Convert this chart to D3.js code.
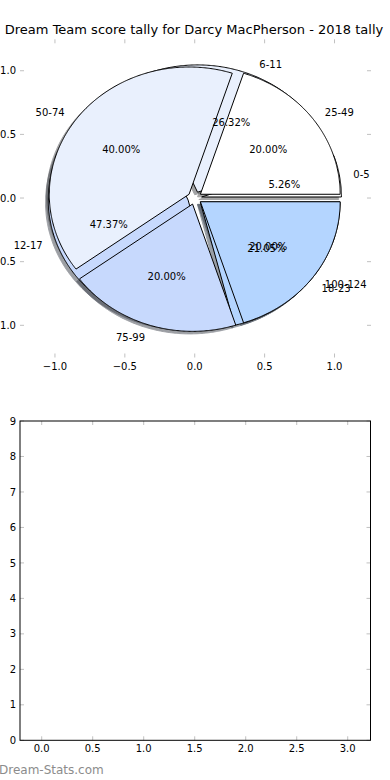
<!DOCTYPE html>
<html>
<head>
<meta charset="utf-8">
<script src="https://cdn.jsdelivr.net/npm/d3@7"></script>
<style>
  html, body { margin: 0; padding: 0; background: #ffffff; }
  svg { display: block; }
  text { font-family: "DejaVu Sans", sans-serif; }
</style>
</head>
<body>
<script>
// ---- data ----
const chartTitle = "Dream Team score tally for Darcy MacPherson - 2018 tally";
const pie1Labels = ["0-5", "6-11", "12-17", "18-23"];
const pie1Values = [1, 5, 9, 4];
const pie2Labels = ["25-49", "50-74", "75-99", "100-124"];
const pie2Values = [1, 2, 1, 1];
const sliceColors = ["#ffffff", "#e9f0fd", "#c7d9fd", "#b4d5ff"];
const pieXTicks = [-1.0, -0.5, 0.0, 0.5, 1.0];
const pieYTicks = [-1.0, -0.5, 0.0, 0.5, 1.0];
const barXTicks = [0.0, 0.5, 1.0, 1.5, 2.0, 2.5, 3.0];
const barYTicks = [0, 1, 2, 3, 4, 5, 6, 7, 8, 9];
const watermark = "Dream-Stats.com";

const W = 390, H = 780;
const explode = 0.05, labelDist = 1.1, pctDist = 0.6, shadowOff = -0.02;

const svg = d3.select("body").append("svg")
  .attr("width", W).attr("height", H);
svg.append("rect").attr("width", W).attr("height", H).attr("fill", "#ffffff");

// ---- top (pie) axes ----
const pA = { left: 20, right: 371, top: 39.3, bottom: 357.5 };
const px = d3.scaleLinear().domain([-1.25, 1.261]).range([pA.left, pA.right]);
const py = d3.scaleLinear().domain([-1.253, 1.247]).range([pA.bottom, pA.top]);

const tickColor = "#c0c0c0";

function ticksFor(g, xs, ys, A, xScale, yScale, xFmt, yFmt) {
  xs.forEach(v => {
    const X = xScale(v);
    g.append("line").attr("x1", X).attr("x2", X).attr("y1", A.bottom).attr("y2", A.bottom - 4)
      .attr("stroke", tickColor).attr("stroke-width", 1);
    g.append("line").attr("x1", X).attr("x2", X).attr("y1", A.top).attr("y2", A.top + 4)
      .attr("stroke", tickColor).attr("stroke-width", 1);
    g.append("text").attr("x", X).attr("y", A.bottom + 12)
      .attr("text-anchor", "middle").attr("font-size", 10).attr("fill", "#000")
      .text(xFmt(v));
  });
  ys.forEach(v => {
    const Y = yScale(v);
    g.append("line").attr("x1", A.left).attr("x2", A.left + 4).attr("y1", Y).attr("y2", Y)
      .attr("stroke", tickColor).attr("stroke-width", 1);
    g.append("line").attr("x1", A.right).attr("x2", A.right - 4).attr("y1", Y).attr("y2", Y)
      .attr("stroke", tickColor).attr("stroke-width", 1);
    g.append("text").attr("x", A.left - 4).attr("y", Y).attr("dy", "0.36em")
      .attr("text-anchor", "end").attr("font-size", 10).attr("fill", "#000")
      .text(yFmt(v));
  });
}

const fmt1 = d3.format(".1f");
ticksFor(svg.append("g"), pieXTicks, pieYTicks, pA, px, py, fmt1, fmt1);

// title
svg.append("text").attr("x", (pA.left + pA.right) / 2 - 1.5).attr("y", 34)
  .attr("text-anchor", "middle").attr("font-size", 13).attr("fill", "#000")
  .text(chartTitle);

// pie geometry
const pieGen = d3.pie().sort(null).startAngle(0).endAngle(2 * Math.PI);
function buildSlices(values, labels) {
  const total = d3.sum(values);
  return pieGen(values).map((d, i) => {
    const mid = (d.startAngle + d.endAngle) / 2;
    const cx = explode * Math.cos(mid), cy = explode * Math.sin(mid);
    return { t1: d.startAngle, t2: d.endAngle, mid, cx, cy,
             label: labels[i], pct: d3.format(".2f")(d.value / total * 100) + "%",
             color: sliceColors[i % sliceColors.length] };
  });
}
const slices1 = buildSlices(pie1Values, pie1Labels);
const slices2 = buildSlices(pie2Values, pie2Labels);

const lineGen = d3.line().x(p => px(p[0])).y(p => py(p[1]));
function wedgePts(s, off) {
  const pts = [[s.cx + off, s.cy + off]];
  const n = Math.max(8, Math.ceil((s.t2 - s.t1) / (Math.PI / 360)));
  for (let k = 0; k <= n; k++) {
    const t = s.t1 + (s.t2 - s.t1) * k / n;
    pts.push([s.cx + off + Math.cos(t), s.cy + off + Math.sin(t)]);
  }
  return pts;
}
function shade(c) {
  const r = d3.rgb(c);
  return d3.rgb(r.r * 0.3, r.g * 0.3, r.b * 0.3).toString();
}

const gShadow = svg.append("g");
[slices1, slices2].forEach(sl => sl.forEach(s => {
  gShadow.append("path").attr("d", lineGen(wedgePts(s, shadowOff)) + "Z")
    .attr("fill", shade(s.color)).attr("stroke", shade(s.color))
    .attr("stroke-width", 1).attr("opacity", 0.5);
}));
const gWedge = svg.append("g");
[slices1, slices2].forEach(sl => sl.forEach(s => {
  gWedge.append("path").attr("d", lineGen(wedgePts(s, 0)) + "Z")
    .attr("fill", s.color).attr("stroke", "#000").attr("stroke-width", 1)
    .attr("stroke-linejoin", "miter");
}));
const gText = svg.append("g");
[slices1, slices2].forEach(sl => sl.forEach(s => {
  const lx = s.cx + labelDist * Math.cos(s.mid), ly = s.cy + labelDist * Math.sin(s.mid);
  gText.append("text").attr("x", px(lx)).attr("y", py(ly)).attr("dy", "0.36em")
    .attr("text-anchor", lx > 0 ? "start" : "end").attr("font-size", 10).attr("fill", "#000")
    .text(s.label);
  const tx = s.cx + pctDist * Math.cos(s.mid), ty = s.cy + pctDist * Math.sin(s.mid);
  gText.append("text").attr("x", px(tx)).attr("y", py(ty)).attr("dy", "0.36em")
    .attr("text-anchor", "middle").attr("font-size", 10).attr("fill", "#000")
    .text(s.pct);
}));

// ---- bottom (empty) axes ----
const bA = { left: 20, right: 370.5, top: 421, bottom: 740.3 };
const bx = d3.scaleLinear().domain([-0.2127, 3.2234]).range([bA.left, bA.right]);
const by = d3.scaleLinear().domain([0, 9]).range([bA.bottom, bA.top]);
const gB = svg.append("g");
ticksFor(gB, barXTicks, barYTicks, bA, bx, by, fmt1, d3.format("d"));
gB.append("rect").attr("x", bA.left).attr("y", bA.top)
  .attr("width", bA.right - bA.left).attr("height", bA.bottom - bA.top)
  .attr("fill", "none").attr("stroke", "#000").attr("stroke-width", 1);

// watermark
svg.append("text").attr("x", -1).attr("y", 774).attr("font-size", 12)
  .attr("fill", "#8c8c8c").text(watermark);
</script>
</body>
</html>
